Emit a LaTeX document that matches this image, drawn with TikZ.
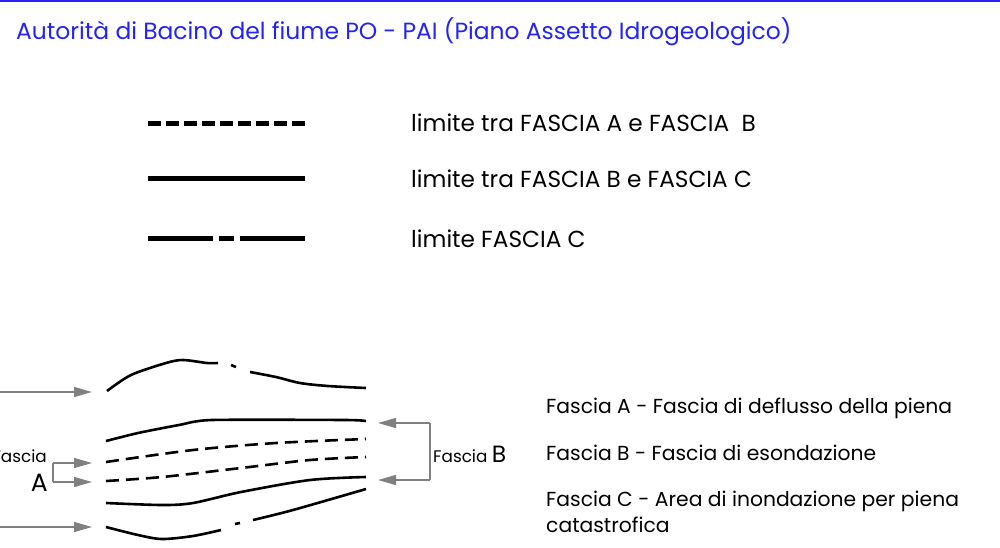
\documentclass[tikz,border=0pt]{standalone}
\usepackage{fontspec}
\setmainfont{Poppins}
\usetikzlibrary{arrows.meta}
\definecolor{titleblue}{RGB}{35,35,245}
\definecolor{arrgray}{RGB}{128,128,128}
\begin{document}
\begin{tikzpicture}[x=1pt,y=-1pt,
  legline/.style={line width=5pt},
  riv/.style={line width=2.6pt, line join=round},
  rivdash/.style={riv, dash pattern=on 13pt off 7pt},
  ptr/.style={draw=arrgray, line width=1.3pt, -{Triangle[length=18pt,width=10pt]}},
  lbl/.style={inner sep=0pt, anchor=base west, font=\fontsize{23.2}{26}\selectfont},
  desc/.style={inner sep=0pt, anchor=base west, font=\fontsize{20.3}{24}\selectfont},
  small/.style={inner sep=0pt, anchor=base west, font=\fontsize{16.8}{20}\selectfont}]
\useasboundingbox (0,0) rectangle (1000,547);
\clip (0,0) rectangle (1000,547);
% top rule and title
\draw[titleblue, line width=2pt] (0,1) -- (1000,1);
\node[inner sep=0pt, anchor=base west, text=titleblue, font=\fontsize{23.4}{26}\selectfont] (title) at (16,39)
  {Autorità di Bacino del fiume PO - PAI (Piano Assetto Idrogeologico)};
% legend
\draw[legline, dash pattern=on 13.4pt off 4.55pt] (148,123) -- (305,123);
\draw[legline] (148,178) -- (305,178);
\draw[legline] (148,238) -- (213,238) (219,238) -- (234,238) (240,238) -- (305,238);
\node[lbl] (l1) at (411,131) {limite tra FASCIA A e FASCIA\ \ B};
\node[lbl] (l2) at (411,187) {limite tra FASCIA B e FASCIA C};
\node[lbl] (l3) at (411,247) {limite FASCIA C};
% river section
\draw[riv] plot[smooth, tension=0.5] coordinates {(107,391) (131,375) (166,363) (183,360) (207,363) (218,363)};
\draw[riv] (231,365) -- (236,367);
\draw[riv] plot[smooth, tension=0.5] coordinates {(250,372) (276,377) (300,383) (328,386) (366,388)};
\draw[riv] plot[smooth, tension=0.4] coordinates {(106,441) (138,433) (179,425) (212,420) (345,420) (366,421)};
\draw[rivdash] plot[smooth, tension=0.5] coordinates {(106,462) (193,450) (276,443) (366,439)};
\draw[rivdash] plot[smooth, tension=0.5] coordinates {(106,481) (162,477) (241,468) (310,460) (366,457)};
\draw[riv] plot[smooth, tension=0.5] coordinates {(106,503) (162,505) (193,503) (241,492) (310,480) (366,477)};
\draw[riv] plot[smooth, tension=0.5] coordinates {(106,527) (138,535) (162,539) (193,536) (221,530)};
\draw[riv] (235,524) -- (240,523);
\draw[riv] plot[smooth, tension=0.5] coordinates {(253,520) (293,510) (366,489)};
% arrows
\coordinate (t0) at (-2,392); \coordinate (t1) at (92,392);
\coordinate (b0) at (-2,527); \coordinate (b1) at (92,527);
\draw[ptr] (t0) -- (t1);
\draw[ptr] (b0) -- (b1);
\coordinate (aj) at (53,463); \coordinate (a1) at (92,463); \coordinate (a2) at (92,482);
\draw[ptr] (aj) -- (a1);
\draw[ptr] (aj |- a2) -- (a2);
\draw[arrgray, line width=1.3pt] (aj) -- (aj |- a2);
\coordinate (bj) at (430,423); \coordinate (b1r) at (378,423); \coordinate (b2r) at (378,480);
\draw[ptr] (bj) -- (b1r);
\draw[ptr] (bj |- b2r) -- (b2r);
\draw[arrgray, line width=1.3pt] (bj) -- (bj |- b2r);
% labels
\node[small, anchor=base east] (fa) at (47,462) {Fascia};
\node[inner sep=0pt, anchor=base east, font=\fontsize{25}{28}\selectfont] (fA) at (48,491) {A};
\node[small] (fb) at (433,462) {Fascia \fontsize{23.5}{26}\selectfont B};
\node[desc] (d1) at (546,413) {Fascia A - Fascia di deflusso della piena};
\node[desc] (d2) at (546,460) {Fascia B - Fascia di esondazione};
\node[desc] (d3) at (546,506) {Fascia C - Area di inondazione per piena};
\node[desc] (d4) at (546,532) {catastrofica};
\end{tikzpicture}
\end{document}
